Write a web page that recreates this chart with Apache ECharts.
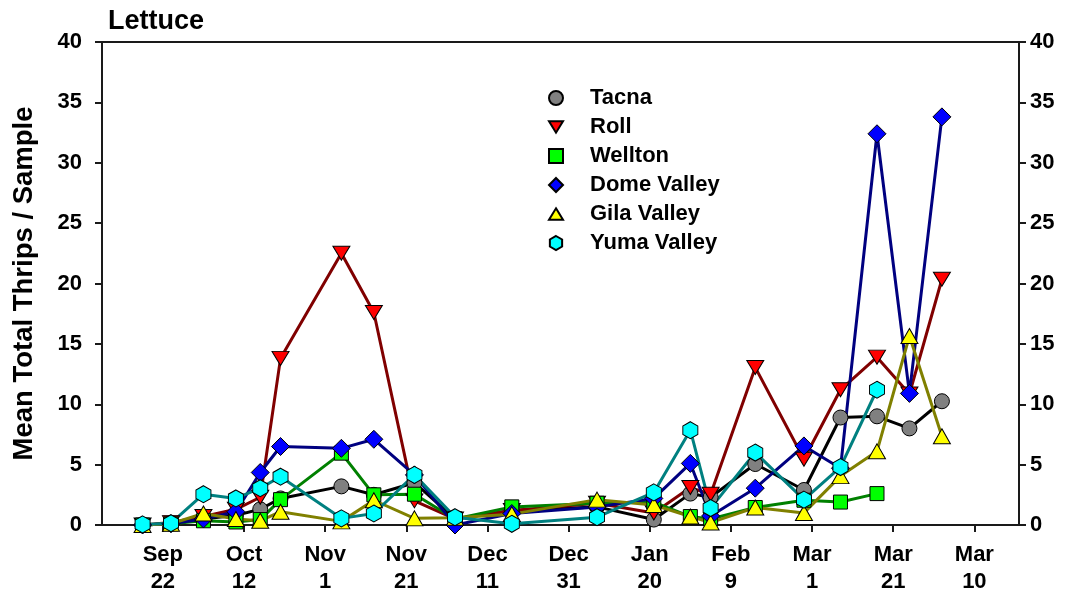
<!DOCTYPE html>
<html>
<head>
<meta charset="utf-8">
<script src="https://cdn.jsdelivr.net/npm/echarts@6/dist/echarts.min.js"></script>
<style>
  html, body { margin: 0; padding: 0; background: #ffffff; }
  #chart { width: 1084px; height: 593px; }
</style>
</head>
<body>
<div id="chart"></div>
<script>
// Sampling dates, as days after Sep 22
const sampleDays = [-5, 2, 10, 18, 24, 29, 44, 52, 62, 72, 86, 107, 121, 130, 135, 146, 158, 167, 176, 184, 192];

// Mean total thrips per sample at each site
const tacna   = [0, 0.1, 0.5, 0.8, 1.3, 2.2, 3.2, 2.5, 3.5, 0.5, 1.2, 1.5, 0.45, 2.6, 2.3, 5.05, 2.9, 8.9, 9.0, 8.0, 10.25];
const roll    = [0, 0.2, 0.7, 1.3, 2.3, 13.8, 22.5, 17.6, 2.0, 0.5, 1.2, 1.8, 1.0, 3.1, 2.55, 13.05, 5.45, 11.2, 13.9, 10.85, 20.35];
const wellton = [0, 0.1, 0.35, 0.25, 0.45, 2.1, 5.95, 2.5, 2.55, 0.5, 1.5, 1.8, 1.9, 0.7, 0.5, 1.45, 2.05, 1.9, 2.6, null, null];
const dome    = [0, 0.1, 0.5, 1.1, 4.35, 6.5, 6.35, 7.1, 4.15, 0.0, 0.95, 1.5, 2.2, 5.1, 0.75, 3.05, 6.55, 4.7, 32.4, 10.9, 33.8];
const gila    = [0, 0.1, 0.95, 0.5, 0.35, 1.1, 0.3, 2.05, 0.55, 0.6, 0.9, 2.1, 1.65, 0.7, 0.2, 1.45, 1.0, 4.05, 6.1, 15.65, 7.35];
const yuma    = [0.05, 0.15, 2.55, 2.2, 3.05, 4.0, 0.55, 0.95, 4.15, 0.65, 0.1, 0.65, 2.7, 7.85, 1.4, 6.0, 2.1, 4.8, 11.2, null, null];

// Date axis ticks (days after Sep 22) and their two-line labels
const tickDays   = [0, 20, 40, 60, 80, 100, 120, 140, 160, 180, 200];
const tickLabels = ['Sep\n22', 'Oct\n12', 'Nov\n1', 'Nov\n21', 'Dec\n11', 'Dec\n31', 'Jan\n20', 'Feb\n9', 'Mar\n1', 'Mar\n21', 'Mar\n10'];

const FONT = "'Liberation Sans', Arial, sans-serif";
const AXIS_COLOR = '#1a1a1a';

const HEXAGON = 'path://M7,0L14,4L14,12L7,16L0,12L0,4Z';
const TRI_DOWN = 'path://M0,0L16,0L8,13Z';
const TRI_UP = 'path://M8,0L16,13L0,13Z';

const sites = [
  { name: 'Tacna',       data: tacna,   line: '#000000', fill: '#808080', symbol: 'circle',  size: 15 },
  { name: 'Roll',        data: roll,    line: '#800000', fill: '#ff0000', symbol: TRI_DOWN,  size: [17, 14] },
  { name: 'Wellton',     data: wellton, line: '#008000', fill: '#00ff00', symbol: 'rect',    size: 14 },
  { name: 'Dome Valley', data: dome,    line: '#000080', fill: '#0000ff', symbol: 'diamond', size: 18 },
  { name: 'Gila Valley', data: gila,    line: '#808000', fill: '#ffff00', symbol: TRI_UP,    size: [17, 15] },
  { name: 'Yuma Valley', data: yuma,    line: '#008080', fill: '#00ffff', symbol: HEXAGON,   size: [15, 17] }
];

const series = sites.map(s => ({
  name: s.name,
  type: 'line',
  xAxisIndex: 0,
  yAxisIndex: 0,
  data: sampleDays.map((d, i) => [d, s.data[i]]).filter(p => p[1] !== null),
  symbol: s.symbol,
  symbolSize: s.size,
  showAllSymbol: true,
  clip: false,
  lineStyle: { color: s.line, width: 3 },
  itemStyle: { color: s.fill, borderColor: '#000000', borderWidth: 1 },
  emphasis: { disabled: true },
  animation: false
}));

const tickLabelStyle = {
  color: '#000000',
  fontFamily: FONT,
  fontWeight: 'bold',
  fontSize: 22
};

const chart = echarts.init(document.getElementById('chart'), null, { renderer: 'canvas' });

chart.setOption({
  backgroundColor: '#ffffff',
  animation: false,
  title: {
    text: 'Lettuce',
    left: 103,
    top: 3,
    textStyle: { color: '#000000', fontFamily: FONT, fontWeight: 'bold', fontSize: 27 }
  },
  legend: {
    orient: 'vertical',
    left: 543,
    top: 81,
    itemWidth: 14,
    itemHeight: 14,
    itemGap: 5,
    selectedMode: false,
    textStyle: { color: '#000000', fontFamily: FONT, fontWeight: 'bold', fontSize: 22, padding: [0, 0, 0, 22], lineHeight: 24 },
    data: sites.map(s => ({ name: s.name, icon: s.symbol }))
  },
  grid: {
    left: 102,
    right: 65,
    top: 42,
    bottom: 68,
    containLabel: false,
    outerBoundsMode: 'none',
    show: true,
    borderColor: AXIS_COLOR,
    borderWidth: 2,
    backgroundColor: 'transparent'
  },
  xAxis: {
    type: 'value',
    min: -15,
    max: 211,
    axisLine: { show: true, onZero: false, lineStyle: { color: AXIS_COLOR, width: 2 } },
    axisTick: { show: true, inside: false, length: 7, customValues: tickDays, lineStyle: { color: AXIS_COLOR, width: 2 } },
    axisLabel: {
      show: true,
      customValues: tickDays,
      margin: 16,
      lineHeight: 27,
      ...tickLabelStyle,
      formatter: v => {
        const i = tickDays.indexOf(Math.round(v));
        return i >= 0 ? tickLabels[i] : '';
      }
    },
    splitLine: { show: false }
  },
  yAxis: [
    {
      type: 'value',
      position: 'left',
      min: 0,
      max: 40,
      interval: 5,
      name: 'Mean Total Thrips / Sample',
      nameLocation: 'middle',
      nameGap: 64,
      nameTextStyle: { color: '#000000', fontFamily: FONT, fontWeight: 'bold', fontSize: 27.5 },
      axisLine: { show: true, onZero: false, lineStyle: { color: AXIS_COLOR, width: 2 } },
      axisTick: { show: true, inside: false, length: 7, lineStyle: { color: AXIS_COLOR, width: 2 } },
      axisLabel: { margin: 20, ...tickLabelStyle },
      splitLine: { show: false }
    },
    {
      type: 'value',
      position: 'right',
      min: 0,
      max: 40,
      interval: 5,
      axisLine: { show: true, onZero: false, lineStyle: { color: AXIS_COLOR, width: 2 } },
      axisTick: { show: true, inside: false, length: 7, lineStyle: { color: AXIS_COLOR, width: 2 } },
      axisLabel: { margin: 11, ...tickLabelStyle },
      splitLine: { show: false }
    }
  ],
  series: series
});
</script>
</body>
</html>
